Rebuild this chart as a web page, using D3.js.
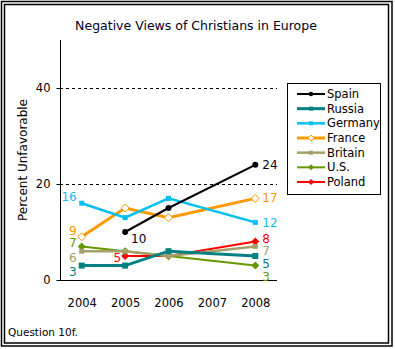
<!DOCTYPE html>
<html>
<head>
<meta charset="utf-8">
<script src="https://cdn.jsdelivr.net/npm/d3@7"></script>
<style>
  html, body { margin: 0; padding: 0; background: #fff; }
  svg text { font-family: "DejaVu Sans", Verdana, sans-serif; }
</style>
</head>
<body>
<div id="chart"></div>
<script>
'use strict'

// data
const years = ["2004", "2005", "2006", "2007", "2008"]
const countries = ["Spain", "Russia", "Germany", "France", "Britain", "U.S.", "Poland"]
const spain   = [null, 10, 15, null, 24]
const russia  = [3, 3, 6, null, 5]
const germany = [16, 13, 17, null, 12]
const france  = [9, 15, 13, null, 17]
const britain = [6, 6, 5, null, 7]
const us      = [7, 6, 5, null, 3]
const poland  = [null, 5, 5, null, 8]
const yTicks = [0, 20, 40]

const seriesValues = [spain, russia, germany, france, britain, us, poland]

// styling per series
const styles = {
  "Spain":   { color: "#000000", width: 2,   marker: "circle",  size: 3,   label: "#000022" },
  "Russia":  { color: "#008080", width: 3,   marker: "square",  size: 6,   label: "#008080" },
  "Germany": { color: "#00C0F0", width: 2.5, marker: "square",  size: 5,   label: "#20B8F0" },
  "France":  { color: "#FF9900", width: 3,   marker: "odiamond",size: 4,   label: "#FF9900" },
  "Britain": { color: "#A5A06A", width: 2.5, marker: "square",  size: 5,   label: "#A5A06A" },
  "U.S.":    { color: "#669900", width: 2,   marker: "diamond", size: 4,   label: "#669900" },
  "Poland":  { color: "#FF0000", width: 2,   marker: "diamond", size: 4,   label: "#FF0000" }
}

const svgWidth = 395, svgHeight = 349

const svg = d3.select("#chart").append("svg")
  .attr("width", svgWidth)
  .attr("height", svgHeight)

// double frame
svg.append("rect").attr("x", 1.5).attr("y", 1.5).attr("width", 390.5).attr("height", 344.5)
  .attr("fill", "none").attr("stroke", "#000").attr("stroke-width", 1.5)
svg.append("rect").attr("x", 4.5).attr("y", 4.5).attr("width", 384).attr("height", 338.5)
  .attr("fill", "none").attr("stroke", "#000").attr("stroke-width", 1.5)

svg.append("text")
  .attr("x", 196).attr("y", 25)
  .attr("text-anchor", "middle").attr("dominant-baseline", "central")
  .style("font-size", "12.5px")
  .attr("fill", "#000022")
  .text("Negative Views of Christians in Europe")

// scales
const x = d3.scalePoint().domain(years).range([60, 277]).padding(0.5)
const y = d3.scaleLinear().domain([0, 50]).range([280, 40])

// grid
svg.selectAll(".grid").data(yTicks.filter(d => d > 0)).join("line")
  .attr("x1", 60).attr("x2", 277)
  .attr("y1", d => y(d) + 0.5).attr("y2", d => y(d) + 0.5)
  .attr("stroke", "#000").attr("stroke-dasharray", "3,3")

// y axis
const yAxis = svg.append("g").attr("transform", "translate(60.5,0)")
  .call(d3.axisLeft(y).tickValues(yTicks).tickSize(4).tickPadding(6))
yAxis.select(".domain").attr("d", `M0,${y(50)}V${y(0)}`)
yAxis.selectAll("text").style("font-size", "11.5px").attr("fill", "#000")
yAxis.selectAll(".tick line").attr("stroke", "#000")

// x axis
const xAxis = svg.append("g").attr("transform", `translate(0,${y(0) + 0.5})`)
  .call(d3.axisBottom(x).tickSize(0).tickPadding(18))
xAxis.select(".domain").attr("d", "M57,0H277")
xAxis.selectAll("text").style("font-size", "11.5px").attr("fill", "#000")

svg.append("text")
  .attr("transform", "translate(23,160) rotate(-90)")
  .attr("text-anchor", "middle").attr("dominant-baseline", "central")
  .style("font-size", "12px")
  .text("Percent Unfavorable")

// lines
const line = d3.line().x(d => x(d.year)).y(d => y(d.value))

const series = countries.map((c, i) => ({
  name: c,
  points: years.map((yr, j) => ({ year: yr, value: seriesValues[i][j] })).filter(p => p.value !== null)
}))

function drawMarker(g, type, size, color) {
  if (type === "circle") {
    g.append("circle").attr("r", size).attr("fill", color)
  } else if (type === "square") {
    g.append("rect").attr("x", -size / 2).attr("y", -size / 2).attr("width", size).attr("height", size).attr("fill", color)
  } else if (type === "diamond") {
    g.append("path").attr("d", `M0,${-size}L${size},0L0,${size}L${-size},0Z`).attr("fill", color)
  } else if (type === "odiamond") {
    g.append("path").attr("d", `M0,${-size}L${size},0L0,${size}L${-size},0Z`)
      .attr("fill", "#fff").attr("stroke", color).attr("stroke-width", 1)
  }
}

// draw in reverse so Spain sits on top
series.slice().reverse().forEach(s => {
  const st = styles[s.name]
  svg.append("path").datum(s.points)
    .attr("d", line)
    .attr("fill", "none")
    .attr("stroke", st.color)
    .attr("stroke-width", st.width)
  s.points.forEach(p => {
    const g = svg.append("g").attr("transform", `translate(${x(p.year)},${y(p.value)})`)
    drawMarker(g, st.marker, st.size, st.color)
  })
})

// end value labels
const rightOffsets = { "Spain": 0, "Russia": 8, "Germany": 1, "France": 0, "Britain": 5, "U.S.": 11, "Poland": -3 }
const leftOffsets = { "Russia": 6, "Germany": -6, "France": -6, "Britain": 7, "U.S.": -3 }
const labelSize = "12px"

series.forEach((s, i) => {
  const st = styles[s.name]
  const last = s.points[s.points.length - 1]
  svg.append("text")
    .attr("x", x(last.year) + 7)
    .attr("y", y(last.value) + rightOffsets[s.name])
    .attr("dominant-baseline", "central")
    .attr("fill", st.label)
    .style("font-size", labelSize)
    .text(last.value)
  const first = s.points[0]
  let lx, ly, anchor = "end"
  if (first.year === "2004") {
    lx = x(first.year) - 5
    ly = y(first.value) + leftOffsets[s.name]
  } else if (s.name === "Spain") {
    lx = x(first.year) + 6; ly = y(first.value) + 7; anchor = "start"
  } else {
    lx = x(first.year) - 4; ly = y(first.value) + 2
  }
  svg.append("text")
    .attr("x", lx).attr("y", ly)
    .attr("text-anchor", anchor)
    .attr("dominant-baseline", "central")
    .attr("fill", st.label)
    .style("font-size", labelSize)
    .text(first.value)
})

// legend
const legend = svg.append("g")
legend.append("rect").attr("x", 287.5).attr("y", 83.5).attr("width", 93).attr("height", 111)
  .attr("fill", "#fff").attr("stroke", "#000").attr("stroke-width", 1)

const ly = d3.scalePoint().domain(countries).range([94, 182])
countries.forEach(c => {
  const st = styles[c]
  const g = legend.append("g").attr("transform", `translate(0,${ly(c)})`)
  g.append("line").attr("x1", 297).attr("x2", 325)
    .attr("stroke", st.color).attr("stroke-width", st.width)
  const m = g.append("g").attr("transform", "translate(311,0)")
  drawMarker(m, st.marker, st.marker === "circle" ? 2.2 : (st.marker === "square" ? 4 : 3), st.color)
  g.append("text").attr("x", 327).attr("y", 0)
    .attr("dominant-baseline", "central")
    .style("font-size", "11.5px")
    .attr("fill", "#000")
    .text(c)
})

svg.append("text")
  .attr("x", 8).attr("y", 332)
  .attr("dominant-baseline", "central")
  .style("font-size", "10.5px")
  .text("Question 10f.")
</script>
</body>
</html>
